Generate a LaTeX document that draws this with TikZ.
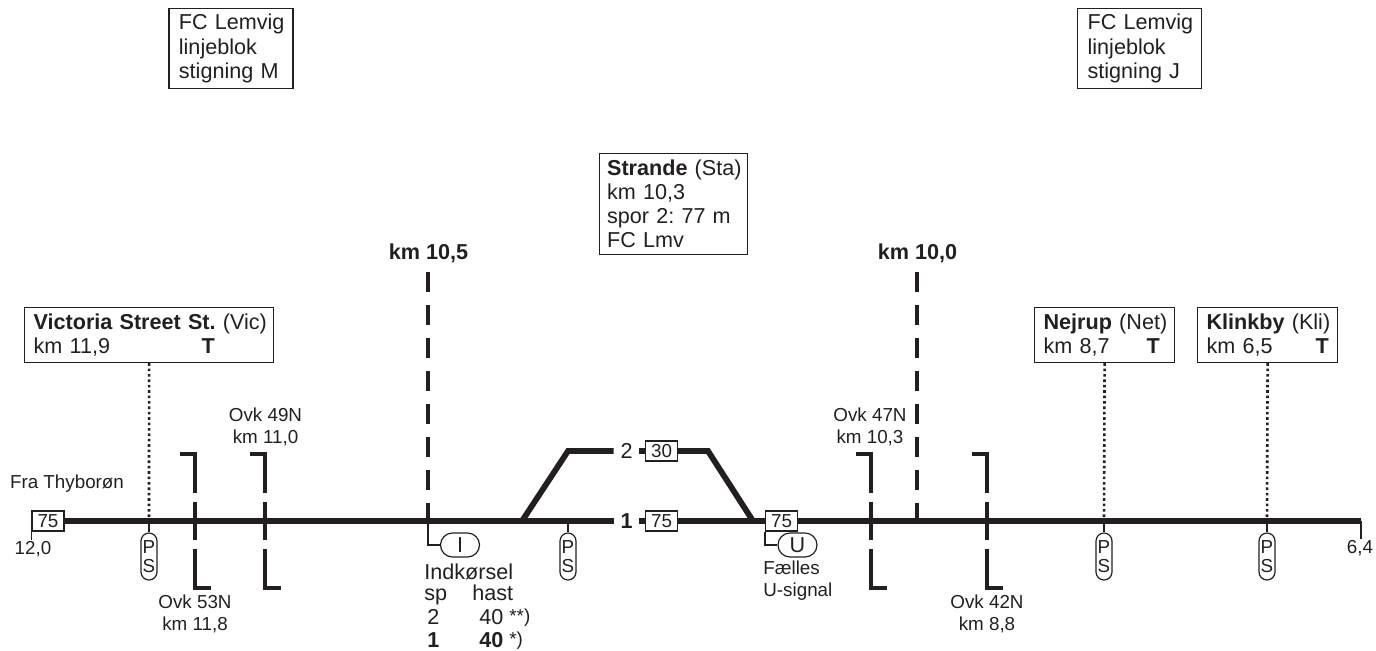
\documentclass[tikz,border=0pt]{standalone}
\usepackage{fontspec}
\setmainfont{Liberation Sans}
\usetikzlibrary{positioning}
\definecolor{ink}{HTML}{231F20}
\tikzset{
	lbl/.style={inner sep=0pt, text=ink, font=\fontsize{10.8}{12}\selectfont},
	boldlbl/.style={lbl, font=\fontsize{10.8}{12}\selectfont\bfseries},
	smalllbl/.style={inner sep=0pt, text=ink, align=center, font=\fontsize{9.4}{11}\selectfont},
	infobox/.style={draw=ink, line width=0.6pt, anchor=north west, align=left, text=ink, inner sep=0pt,
		font=\fontsize{10.8}{12}\selectfont\frenchspacing},
	speedbox/.style={draw=ink, line width=0.6pt, fill=white, text=ink, minimum width=16pt, minimum height=10pt,
		inner sep=0pt, font=\fontsize{9.4}{11}\selectfont},
	pssign/.style={draw=ink, line width=0.6pt, rounded corners=4pt, minimum width=8pt, minimum height=23.5pt,
		inner sep=0pt, text=ink, align=center, font=\fontsize{9.4}{9.6}\selectfont},
	pill/.style={draw=ink, line width=0.6pt, rounded corners=6pt, minimum width=19.5pt, minimum height=12pt,
		inner sep=0pt, text=ink, font=\fontsize{10.8}{12}\selectfont},
	track/.style={draw=ink, line width=2.9pt},
	crossbar/.style={draw=ink, line width=2.2pt},
	kmline/.style={draw=ink, line width=2.2pt, dash pattern=on 10pt off 6.5pt},
	dotline/.style={draw=ink, line width=1.3pt, dash pattern=on 1.3pt off 1.4pt},
	thinln/.style={draw=ink, line width=0.6pt}
}
\begin{document}
\begin{tikzpicture}[x=0.5pt, y=-0.5pt]
	\useasboundingbox (0,0) rectangle (1376,650);

	% linjeblok
	\node[infobox, text width=62pt, minimum height=40pt] (blokm) at (168.3,8) {\hspace*{5pt}FC Lemvig\\[0.2pt]\hspace*{5pt}linjeblok\\[0.2pt]\hspace*{5pt}stigning M};
	\node[infobox, text width=62pt, minimum height=40pt] (blokj) at (1077,8) {\hspace*{5pt}FC Lemvig\\[0.2pt]\hspace*{5pt}linjeblok\\[0.2pt]\hspace*{5pt}stigning J};

	% stationer
	\node[infobox, text width=74pt, minimum height=50.5pt] (strande) at (598.5,152.5) {\hspace*{4pt}\textbf{Strande} (Sta)\\\hspace*{4pt}km 10,3\\\hspace*{4pt}spor 2: 77 m\\\hspace*{4pt}FC Lmv};
	\node[infobox, text width=124.5pt, minimum height=27.5pt] (vic) at (24,307) {\hspace*{4.5pt}\textbf{Victoria Street St.} (Vic)\\\hspace*{4.5pt}\makebox[84pt][l]{km 11,9}\textbf{T}};
	\node[infobox, text width=70pt, minimum height=27.5pt] (net) at (1034,307) {\hspace*{4.5pt}\textbf{Nejrup} (Net)\\\hspace*{4.5pt}\makebox[51.5pt][l]{km 8,7}\textbf{T}};
	\node[infobox, text width=70pt, minimum height=27.5pt] (kli) at (1197,307) {\hspace*{4.5pt}\textbf{Klinkby} (Kli)\\\hspace*{4.5pt}\makebox[54.5pt][l]{km 6,5}\textbf{T}};

	% km-linjer
	\node[boldlbl] (kmvest) at (428.5,253) {km 10,5};
	\node[boldlbl] (kmoest) at (917.5,253) {km 10,0};
	\coordinate (kmvesttop) at (428,272);
	\coordinate (kmvestbot) at (428,521);
	\coordinate (kmoesttop) at (917,272);
	\coordinate (kmoestbot) at (917,521);
	\draw[kmline] (kmvesttop) -- (kmvestbot);
	\draw[kmline] (kmoesttop) -- (kmoestbot);

	% spor
	\node[speedbox] (v75) at (48,521) {75};
	\node[speedbox] (s75) at (661.5,521) {75};
	\node[speedbox] (s30) at (661.5,451) {30};
	\node[speedbox] (u75) at (781.5,521) {75};
	\node[boldlbl, minimum width=12.5pt] (spor1) at (626.5,521) {1};
	\node[lbl, minimum width=12.5pt] (spor2) at (626.5,451) {2};
	\coordinate (end) at (1361,521);
	\coordinate (skiftv) at (522,521);
	\coordinate (skiftv2) at (568,451);
	\coordinate (skiftoe2) at (708,451);
	\coordinate (skiftoe) at (753,521);
	\draw[track] (v75.east) -- (spor1.west);
	\draw[track] (spor1.east) -- (s75.west);
	\draw[track] (s75.east) -- (u75.west);
	\draw[track] (u75.east) -- (end);
	\draw[track] (skiftv) -- (skiftv2) -- (spor2.west);
	\draw[track] (spor2.east) -- (s30.west);
	\draw[track] (s30.east) -- (skiftoe2) -- (skiftoe);

	% km ender
	\node[smalllbl] (km12) at (33,549) {12,0};
	\node[smalllbl] (km6) at (1360,548) {6,4};
	\draw[thinln] (v75.south west) -- ++(0,8);
	\draw[thinln] (end) -- ++(0,18);

	% PS
	\foreach \x/\name/\stn in {149/psvic/vic, 1104/psnet/net, 1267/pskli/kli}{
		\node[pssign] (\name) at (\x,556.5) {P\\S};
		\coordinate (\name top) at (\x,521);
		\draw[dotline] (\stn.south) -- (\name top);
		\draw[thinln] (\name top) -- (\name.north);
	}
	\node[pssign] (psstr) at (568,556.5) {P\\S};
	\coordinate (psstrtop) at (568,521);
	\draw[thinln] (psstrtop) -- (psstr.north);

	% overkoersler
	\foreach \x in {195,265,871,987}{
		\draw[crossbar] (\x-15,454) -| (\x,493);
		\draw[crossbar] (\x,502) -- (\x,540);
		\draw[crossbar] (\x,549) |- (\x+16,588);
	}
	\node[smalllbl] (ovk49) at (265.5,427) {Ovk 49N\\km 11,0};
	\node[smalllbl] (ovk53) at (195,614) {Ovk 53N\\km 11,8};
	\node[smalllbl] (ovk47) at (870,427) {Ovk 47N\\km 10,3};
	\node[smalllbl] (ovk42) at (987,614) {Ovk 42N\\km 8,8};
	\node[smalllbl] (fra) at (67,484) {Fra Thyborøn};

	% signaler
	\node[pill] (sigi) at (460,545) {I};
	\node[pill] (sigu) at (797.5,545) {U};
	\draw[thinln] (kmvestbot) |- (sigi.west);
	\draw[thinln] (u75.south west) |- (sigu.west);
	\node[smalllbl, align=left, anchor=north west] (faelles) at (763,560) {Fælles\\U-signal};

	% indkoersel
	\node[lbl, anchor=base west] (ind) at (424,579) {Indkørsel};
	\node[lbl, anchor=base west] (sp) at (424,600) {sp};
	\node[lbl, anchor=base west] (hast) at (472,600) {hast};
	\node[lbl, anchor=base] (sp2) at (433.5,624) {2};
	\node[lbl, anchor=base west] (hast2) at (479,624) {40 \raisebox{1pt}{\fontsize{9.4}{11}\selectfont**)}};
	\node[boldlbl, anchor=base] (sp1) at (433.5,647) {1};
	\node[lbl, anchor=base west] (hast1) at (479,647) {\textbf{40} \raisebox{1pt}{\fontsize{9.4}{11}\selectfont*)}};
\end{tikzpicture}
\end{document}
